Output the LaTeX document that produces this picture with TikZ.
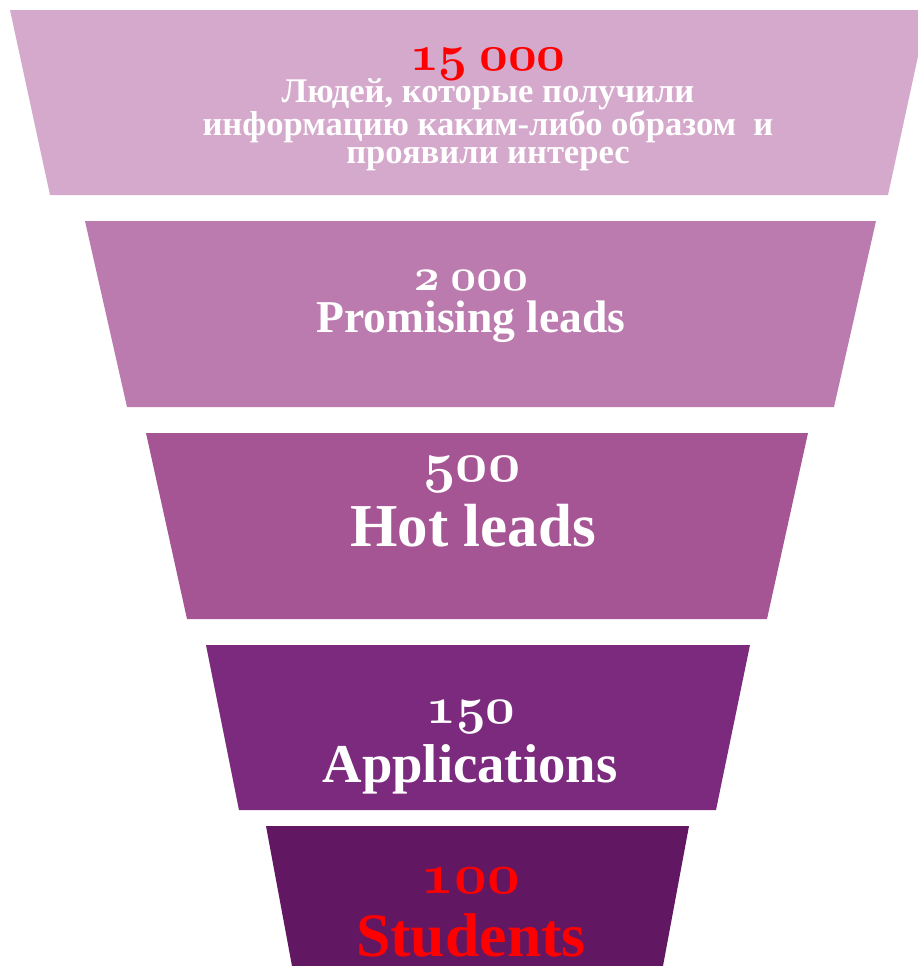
\documentclass[tikz,border=0pt]{standalone}
\usepackage{fontspec}
\setmainfont{Liberation Serif}
\usepackage{xcolor}

\definecolor{stageA}{HTML}{D4A9CB}
\definecolor{stageB}{HTML}{BC7BAF}
\definecolor{stageC}{HTML}{A65594}
\definecolor{stageD}{HTML}{7B2A7E}
\definecolor{stageE}{HTML}{621763}
\definecolor{hot}{HTML}{FF0000}

% old-style figures for the counts (bold math italic digits)
\newcommand{\osn}[2]{{\font\osfnt=cmmib10 at #1pt\osfnt #2}}
\newcommand{\fsz}[1]{\fontsize{#1}{1.15\dimexpr#1pt\relax}\selectfont}

\begin{document}
\begin{tikzpicture}[
    x=0.03cm, y=-0.03cm,
    label/.style={anchor=base, inner sep=0pt, text=white, font=\bfseries}
]
\useasboundingbox (0,0) rectangle (918,966);
\clip (0,0) rectangle (918,966);

% funnel stages
\fill[stageA] (10,10) -- (928,10) -- (888,195) -- (50,195) -- cycle;
\fill[stageB] (85,221) -- (876,221) -- (834,407) -- (127,407) -- cycle;
\fill[stageC] (146,433) -- (808,433) -- (767,619) -- (187,619) -- cycle;
\fill[stageD] (206,645) -- (750,645) -- (716,810) -- (239,810) -- cycle;
\fill[stageE] (266,826) -- (689,826) -- (663,966) -- (292,966) -- cycle;

% stage 1 (base of a multi-line node is its last line)
\node[label, text=hot, font=\bfseries\fsz{40}] (n1) at (488,70) {\osn{42.7}{15} \osn{42.7}{000}};
\node[label, align=center, font=\bfseries\fontsize{29.5}{23.5}\selectfont] (t1) at (488,163)
    {Людей, которые получили\\информацию каким-либо образом~ и\\проявили интерес};

% stage 2
\node[label] (n2) at (471,290) {\fsz{36}\osn{38.4}{2} \osn{38.4}{000}};
\node[label, font=\bfseries\fsz{38.9}] (t2) at (471,332) {Promising leads};

% stage 3
\node[label] (n3) at (472,481) {\osn{48}{500}};
\node[label, font=\bfseries\fsz{52}] (t3) at (473,546) {Hot leads};

% stage 4
\node[label] (n4) at (471,723) {\osn{44}{150}};
\node[label, font=\bfseries\fsz{46.7}] (t4) at (470,782) {Applications};

% stage 5
\node[label, text=hot] (n5) at (471,893) {\osn{48.7}{100}};
\node[label, text=hot, text depth=0pt, font=\bfseries\fsz{52.7}] (t5) at (471,956) {Students};

\end{tikzpicture}
\end{document}
